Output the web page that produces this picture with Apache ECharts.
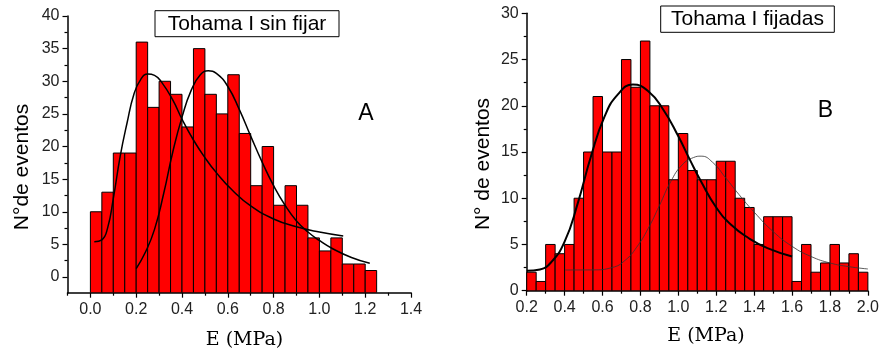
<!DOCTYPE html>
<html>
<head>
<meta charset="utf-8">
<script src="https://cdn.jsdelivr.net/npm/echarts@6/dist/echarts.min.js"></script>
<style>
html,body{margin:0;padding:0;background:#fff;}
#chart{width:882px;height:356px;}
</style>
</head>
<body>
<div id="chart"></div>
<script>
// ---------- Data: panel A (Tohama I sin fijar) ----------
const binLeftA = [0.00,0.05,0.10,0.15,0.20,0.25,0.30,0.35,0.40,0.45,0.50,0.55,0.60,0.65,0.70,0.75,0.80,0.85,0.90,0.95,1.00,1.05,1.10,1.15,1.20];
const countsA  = [10,13,19,19,36,26,30,28,23,35,28,25,31,22,14,20,11,14,11,6,4,6,2,2,1];
const binWidthA = 0.05;
const fitA1 = [[0.017,5.4],[0.05,5.7],[0.075,7.5],[0.10,12.0],[0.13,18.5],[0.16,23.6],[0.19,28.0],[0.22,30.3],[0.251,31.1],[0.28,30.9],[0.31,29.9],[0.36,27.1],[0.40,24.2],[0.45,21.0],[0.50,18.3],[0.55,16.0],[0.62,13.3],[0.70,10.9],[0.80,8.9],[0.90,7.7],[1.00,6.9],[1.104,6.3]];
const fitA2 = [[0.20,1.3],[0.24,3.8],[0.28,7.3],[0.32,12.8],[0.36,19.2],[0.40,24.5],[0.44,28.6],[0.48,31.0],[0.515,31.6],[0.55,31.2],[0.60,29.2],[0.65,25.7],[0.70,21.6],[0.75,17.6],[0.80,14.0],[0.85,11.0],[0.90,8.6],[0.95,6.9],[1.00,5.6],[1.06,4.3],[1.14,3.0],[1.22,2.1]];
const xMajorA = [0.0,0.2,0.4,0.6,0.8,1.0,1.2,1.4];
const xMinorA = [-0.1,0.1,0.3,0.5,0.7,0.9,1.1,1.3];
const yMajorA = [0,5,10,15,20,25,30,35,40];
const yMinorA = [2.5,7.5,12.5,17.5,22.5,27.5,32.5,37.5];

// ---------- Data: panel B (Tohama I fijadas) ----------
const binLeftB = [0.20,0.25,0.30,0.35,0.40,0.45,0.50,0.55,0.60,0.65,0.70,0.75,0.80,0.85,0.90,0.95,1.00,1.05,1.10,1.15,1.20,1.25,1.30,1.35,1.40,1.45,1.50,1.55,1.60,1.65,1.70,1.75,1.80,1.85,1.90,1.95];
const countsB  = [2,1,5,4,5,10,15,21,15,15,25,22,27,20,20,12,17,13,12,12,14,14,10,9,5,8,8,8,1,5,2,3,5,3,4,2];
const binWidthB = 0.05;
const fitB1 = [[0.20,2.15],[0.27,2.3],[0.33,3.1],[0.40,5.3],[0.47,9.5],[0.54,14.6],[0.61,18.8],[0.68,21.2],[0.76,22.3],[0.84,21.6],[0.92,19.6],[1.00,16.7],[1.06,14.2],[1.12,11.8],[1.20,9.0],[1.28,7.1],[1.37,5.7],[1.47,4.6],[1.60,3.7]];
const fitB2 = [[0.404,2.24],[0.55,2.25],[0.65,2.5],[0.72,3.3],[0.78,4.7],[0.84,6.7],[0.90,9.2],[0.96,11.8],[1.02,13.6],[1.08,14.4],[1.12,14.55],[1.18,13.9],[1.25,12.2],[1.32,10.4],[1.40,8.5],[1.50,6.4],[1.60,4.8],[1.70,3.7],[1.80,3.0],[1.90,2.6],[2.00,2.35]];
const xMajorB = [0.2,0.4,0.6,0.8,1.0,1.2,1.4,1.6,1.8,2.0];
const xMinorB = [0.3,0.5,0.7,0.9,1.1,1.3,1.5,1.7,1.9];
const yMajorB = [0,5,10,15,20,25,30];
const yMinorB = [2.5,7.5,12.5,17.5,22.5,27.5];

const Y_MIN_A = -2.4, Y_MAX_A = 40, X_MIN_A = -0.1, X_MAX_A = 1.4;
const Y_MIN_B = 0, Y_MAX_B = 30, X_MIN_B = 0.2, X_MAX_B = 2.0;

const FONT = 'Liberation Sans, Arial, sans-serif';
const lab = {color:'#222', fontFamily:FONT, fontSize:16};

function hist(left, counts, w) {
  return left.map((x, i) => [x, +(x + w).toFixed(3), counts[i]]);
}
function barSeries(data, xi, yi, ymin) {
  return {
    type:'custom', xAxisIndex:xi, yAxisIndex:yi, data:data, clip:true,
    encode:{x:[0,1], y:2},
    renderItem:function(params, api){
      const p0 = api.coord([api.value(0), ymin]);
      const p1 = api.coord([api.value(1), api.value(2)]);
      return {type:'rect', shape:{x:p0[0], y:p1[1], width:p1[0]-p0[0], height:p0[1]-p1[1]},
              style:{fill:'#ff0000', stroke:'#000', lineWidth:1}};
    }
  };
}
function lineSeries(data, xi, yi, color, width) {
  return {type:'line', xAxisIndex:xi, yAxisIndex:yi, data:data, showSymbol:false, symbol:'none',
          smooth:true, lineStyle:{color:color, width:width}, z:5};
}
function majorX(grid, min, max, vals) {
  return {type:'value', gridIndex:grid, min:min, max:max, position:'bottom',
    axisLine:{show:true, onZero:false, lineStyle:{color:'#000', width:1.5}},
    axisTick:{show:true, customValues:vals, length:5, lineStyle:{color:'#000', width:1.2}},
    axisLabel:Object.assign({customValues:vals, margin:9, formatter:v=>(+v).toFixed(1)}, lab),
    splitLine:{show:false}};
}
function minorX(grid, min, max, vals) {
  return {type:'value', gridIndex:grid, min:min, max:max, position:'bottom', offset:0,
    axisLine:{show:false, onZero:false},
    axisTick:{show:true, customValues:vals, length:3, lineStyle:{color:'#000', width:1.2}},
    axisLabel:{show:false}, splitLine:{show:false}};
}
function majorY(grid, min, max, vals) {
  return {type:'value', gridIndex:grid, min:min, max:max, position:'left',
    axisLine:{show:true, onZero:false, lineStyle:{color:'#000', width:1.5}},
    axisTick:{show:true, customValues:vals, length:5, lineStyle:{color:'#000', width:1.2}},
    axisLabel:Object.assign({customValues:vals, margin:8}, lab),
    splitLine:{show:false}};
}
function minorY(grid, min, max, vals) {
  return {type:'value', gridIndex:grid, min:min, max:max, position:'left', offset:0,
    axisLine:{show:false, onZero:false},
    axisTick:{show:true, customValues:vals, length:3, lineStyle:{color:'#000', width:1.2}},
    axisLabel:{show:false}, splitLine:{show:false}};
}

const chart = echarts.init(document.getElementById('chart'), null, {renderer:'canvas'});
chart.setOption({
  animation:false,
  backgroundColor:'#fff',
  grid:[
    {left:67.5, top:16, width:343.5, height:276.7},
    {left:526.7, top:13.3, width:344.3, height:277.4}
  ],
  xAxis:[
    majorX(0, X_MIN_A, X_MAX_A, xMajorA),
    minorX(0, X_MIN_A, X_MAX_A, xMinorA),
    majorX(1, X_MIN_B, X_MAX_B, xMajorB),
    minorX(1, X_MIN_B, X_MAX_B, xMinorB)
  ],
  yAxis:[
    majorY(0, Y_MIN_A, Y_MAX_A, yMajorA),
    minorY(0, Y_MIN_A, Y_MAX_A, yMinorA),
    majorY(1, Y_MIN_B, Y_MAX_B, yMajorB),
    minorY(1, Y_MIN_B, Y_MAX_B, yMinorB)
  ],
  series:[
    barSeries(hist(binLeftA, countsA, binWidthA), 0, 0, Y_MIN_A),
    lineSeries(fitA1, 0, 0, '#000', 1.5),
    lineSeries(fitA2, 0, 0, '#000', 1.5),
    barSeries(hist(binLeftB, countsB, binWidthB), 2, 2, Y_MIN_B),
    lineSeries(fitB2, 2, 2, '#333', 0.8),
    lineSeries(fitB1, 2, 2, '#000', 2)
  ],
  graphic:[
    {type:'rect', shape:{x:155, y:10.7, width:184, height:26}, style:{fill:'#fff', stroke:'#000', lineWidth:1}, z:10},
    {type:'text', x:247, y:24, style:{text:'Tohama I sin fijar', font:'21px Liberation Sans', fill:'#000', align:'center', verticalAlign:'middle'}, z:11},
    {type:'rect', shape:{x:660.7, y:6, width:173.6, height:26.3}, style:{fill:'#fff', stroke:'#000', lineWidth:1}, z:10},
    {type:'text', x:747.5, y:19.5, style:{text:'Tohama I fijadas', font:'21px Liberation Sans', fill:'#000', align:'center', verticalAlign:'middle'}, z:11},
    {type:'text', x:366, y:114, style:{text:'A', font:'23px Liberation Sans', fill:'#000', align:'center', verticalAlign:'middle'}},
    {type:'text', x:825.5, y:111, style:{text:'B', font:'23px Liberation Sans', fill:'#000', align:'center', verticalAlign:'middle'}},
    {type:'text', x:22, y:167, rotation:Math.PI/2, style:{text:'N°de eventos', font:'21px Liberation Sans', fill:'#000', align:'center', verticalAlign:'middle'}},
    {type:'text', x:483.5, y:164, rotation:Math.PI/2, style:{text:'N° de eventos', font:'21px Liberation Sans', fill:'#000', align:'center', verticalAlign:'middle'}},
    {type:'text', x:244.5, y:340, style:{text:'E (MPa)', font:'19px DejaVu Serif', fill:'#000', align:'center', verticalAlign:'middle'}},
    {type:'text', x:706, y:336, style:{text:'E (MPa)', font:'19px DejaVu Serif', fill:'#000', align:'center', verticalAlign:'middle'}}
  ]
});
</script>
</body>
</html>
